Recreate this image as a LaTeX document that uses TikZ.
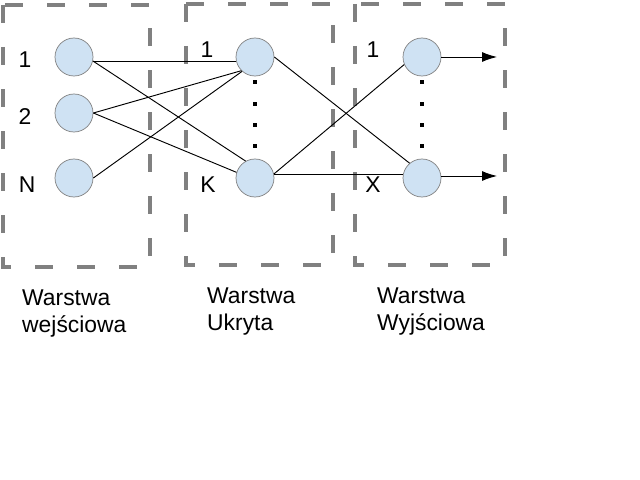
\documentclass[tikz,border=0pt]{standalone}
\usepackage{fontspec}
\setmainfont{Liberation Sans}
\usetikzlibrary{arrows.meta}
\definecolor{neuronfill}{HTML}{CFE2F3}
\definecolor{boxgray}{HTML}{808080}

\begin{document}
\begin{tikzpicture}[x=0.03cm, y=-0.03cm, >={Latex[length=0.45cm,width=0.3cm]},
    neuron/.style={circle, draw=boxgray, fill=neuronfill, line width=0.6pt,
                   minimum size=1.14cm, inner sep=0pt},
    layerbox/.style={draw=boxgray, line width=3.2pt, dash pattern=on 0.54cm off 0.72cm},
    txt/.style={font=\fontsize{19.5pt}{23pt}\selectfont, inner sep=0pt},
    caption/.style={txt, align=left, anchor=north west},
    dotmark/.style={fill=black, minimum size=2.6pt, inner sep=0pt},
    link/.style={line width=0.8pt}]
    \useasboundingbox (0,0) rectangle (640,480);

    % 1. 三个虚线框
    \draw[layerbox] (3,5) rectangle (150,267);
    \draw[layerbox] (186,4) rectangle (333,265);
    \draw[layerbox] (355,4) rectangle (505,265);

    % 2. 神经元
    \node[neuron] (in1) at (74,57) {};
    \node[neuron] (in2) at (74,113) {};
    \node[neuron] (inN) at (74,178) {};
    \node[neuron] (hid1) at (255,57) {};
    \node[neuron] (hidK) at (255,178) {};
    \node[neuron] (out1) at (422,57) {};
    \node[neuron] (outX) at (422,178) {};

    % 3. 编号
    \node[txt] (lin1) at (25,60) {1};
    \node[txt] (lin2) at (25,117) {2};
    \node[txt] (linN) at (27,185) {N};
    \node[txt] (lhid1) at (207,50) {1};
    \node[txt] (lhidK) at (208,185) {K};
    \node[txt] (lout1) at (373,50) {1};
    \node[txt] (loutX) at (373,185) {X};

    % 4. 省略号
    \foreach \y [count=\i] in {82,104,125,146} {
        \node[dotmark] (hdot\i) at (255,\y) {};
        \node[dotmark] (odot\i) at (422,\y) {};
    }

    % 5. 连接线
    \draw[link] (in1.-12) -- (hid1.192);
    \draw[link] (in1.-12) -- (hidK.119);
    \draw[link] (in2.east) -- (hid1.225);
    \draw[link] (in2.east) -- (hidK.163);
    \draw[link] (inN.east) -- (hid1.228);
    \draw[link] (hid1.east) -- (outX.130);
    \draw[link] (hidK.12) -- (out1.203);
    \draw[link] (hidK.12) -- (outX.168);

    % 6. 输出箭头
    \coordinate (out1end) at (497,57);
    \coordinate (outXend) at (497,176);
    \draw[link, ->] (out1.east) -- (out1end);
    \draw[link, ->] (outX.east |- outXend) -- (outXend);

    % 7. 层名称
    \node[caption] (cap1) at (22,290) {Warstwa\\wejściowa};
    \node[caption] (cap2) at (207,288) {Warstwa\\Ukryta};
    \node[caption] (cap3) at (377,288) {Warstwa\\Wyjściowa};

\end{tikzpicture}
\end{document}
